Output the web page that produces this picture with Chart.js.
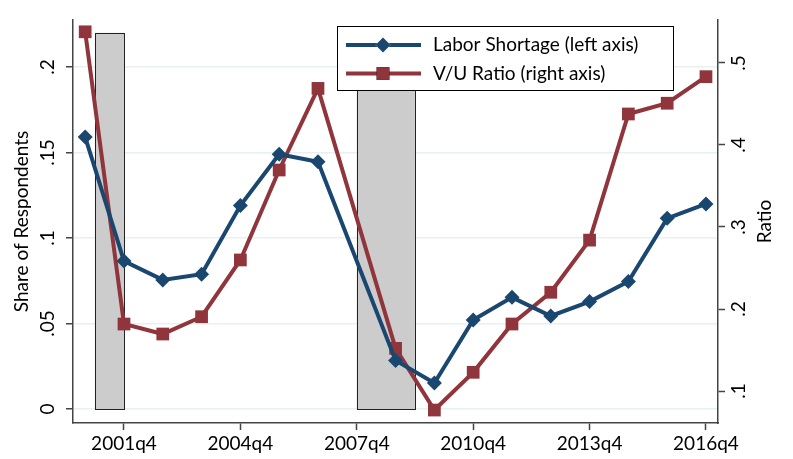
<!DOCTYPE html>
<html>
<head>
<meta charset="utf-8">
<script src="https://cdn.jsdelivr.net/npm/chart.js@4.4.1/dist/chart.umd.min.js"></script>
<style>
  html, body { margin: 0; padding: 0; background: #fff; }
  #wrap { width: 793px; height: 459px; }
</style>
</head>
<body>
<div id="wrap"><canvas id="chart" width="793" height="459"></canvas></div>
<script>
// survey quarters (annual q4 readings, 2007q4 missing)
const quarters = ['2000q4', '2001q4', '2002q4', '2003q4', '2004q4', '2005q4', '2006q4',
    '2008q4', '2009q4', '2010q4', '2011q4', '2012q4', '2013q4', '2014q4', '2015q4', '2016q4'];
const laborShortage = [0.159, 0.0865, 0.0755, 0.0788, 0.119, 0.149, 0.1446,
    0.0284, 0.0152, 0.052, 0.0653, 0.0544, 0.0628, 0.0745, 0.1115, 0.1199];
const vuRatio = [0.538, 0.1817, 0.1695, 0.1906, 0.2598, 0.3695, 0.469,
    0.152, 0.0768, 0.1228, 0.1817, 0.2204, 0.284, 0.4378, 0.4509, 0.4833];

// recessions (start quarter, end quarter)
const recessionStart = ['2001q1', '2007q4'];
const recessionEnd = ['2001q4', '2009q2'];
const recessionTop = 0.22;

const xTickLabels = ['2001q4', '2004q4', '2007q4', '2010q4', '2013q4', '2016q4'];
const leftTicks = [0, 0.05, 0.1, 0.15, 0.2];
const leftTickLabels = ['0', '.05', '.1', '.15', '.2'];
const rightTicks = [0.1, 0.2, 0.3, 0.4, 0.5];
const rightTickLabels = ['.1', '.2', '.3', '.4', '.5'];
const rightTitle = 'Ratio';

const FONT = 'Lato';
const FSIZE = 19;
const BLUE = '#1a476f';
const RED = '#90353b';
const AXIS = '#444444';

// '2001q4' -> 2001.75
function qNum(s) {
    const p = s.split('q');
    return parseInt(p[0]) + (parseInt(p[1]) - 1) / 4;
}

function toPoints(vals) {
    return quarters.map((q, i) => ({ x: qNum(q), y: vals[i] }));
}

const recessionPlugin = {
    id: 'recessions',
    beforeDatasetsDraw(chart) {
        const ctx = chart.ctx;
        const x = chart.scales.x;
        const y = chart.scales.y;
        ctx.save();
        for (let i = 0; i < recessionStart.length; i++) {
            const x0 = x.getPixelForValue(qNum(recessionStart[i]));
            const x1 = x.getPixelForValue(qNum(recessionEnd[i]));
            const y0 = y.getPixelForValue(0);
            const y1 = y.getPixelForValue(recessionTop);
            ctx.fillStyle = '#cccccc';
            ctx.fillRect(x0, y1, x1 - x0, y0 - y1);
            ctx.strokeStyle = '#222';
            ctx.lineWidth = 1;
            ctx.strokeRect(Math.round(x0) + 0.5, Math.round(y1) + 0.5, Math.round(x1 - x0), Math.round(y0 - y1));
        }
        ctx.restore();
    }
};

// legend box inside the plot + right axis title read bottom-to-top
const legendPlugin = {
    id: 'boxLegend',
    afterDraw(chart) {
        const ctx = chart.ctx;
        const bx = 337.5, by = 26.5, bw = 336, bh = 64;
        ctx.save();
        ctx.fillStyle = '#fff';
        ctx.fillRect(bx, by, bw, bh);
        ctx.strokeStyle = '#000';
        ctx.lineWidth = 1;
        ctx.strokeRect(bx, by, bw, bh);
        ctx.font = FSIZE + 'px ' + FONT;
        chart.data.datasets.forEach((ds, i) => {
            const cy = 45 + i * 28.5;
            ctx.strokeStyle = ds.borderColor;
            ctx.lineWidth = 4;
            ctx.beginPath();
            ctx.moveTo(346, cy);
            ctx.lineTo(421, cy);
            ctx.stroke();
            Chart.helpers.drawPoint(ctx, {
                pointStyle: ds.pointStyle,
                radius: ds.pointRadius,
                borderWidth: 0
            }, 383, cy);
            ctx.fillStyle = ds.pointBackgroundColor;
            ctx.fill();
            ctx.fillStyle = '#000';
            ctx.textBaseline = 'middle';
            ctx.textAlign = 'left';
            ctx.fillText(ds.label, 433, cy);
        });

        const area = chart.chartArea;
        ctx.translate(765, (area.top + area.bottom) / 2);
        ctx.rotate(-Math.PI / 2);
        ctx.fillStyle = '#000';
        ctx.textAlign = 'center';
        ctx.textBaseline = 'middle';
        ctx.fillText(rightTitle, 0, 0);
        ctx.restore();
    }
};

function fixedTicks(values) {
    return function (scale) {
        scale.ticks = values.map(v => ({ value: v }));
    };
}

const tickFont = { family: FONT, size: FSIZE };

new Chart(document.getElementById('chart'), {
    type: 'line',
    data: {
        datasets: [{
            label: 'Labor Shortage (left axis)',
            data: toPoints(laborShortage),
            borderColor: BLUE,
            backgroundColor: BLUE,
            pointBackgroundColor: BLUE,
            pointBorderWidth: 0,
            pointStyle: 'rectRot',
            pointRadius: 7.5,
            borderWidth: 4,
            tension: 0,
            yAxisID: 'y'
        }, {
            label: 'V/U Ratio (right axis)',
            data: toPoints(vuRatio),
            borderColor: RED,
            backgroundColor: RED,
            pointBackgroundColor: RED,
            pointBorderWidth: 0,
            pointStyle: 'rect',
            pointRadius: 9,
            borderWidth: 4,
            tension: 0,
            yAxisID: 'y1'
        }]
    },
    options: {
        responsive: false,
        animation: false,
        events: [],
        layout: { autoPadding: false, padding: { top: 20, left: 0, right: 0, bottom: 0 } },
        plugins: {
            legend: { display: false },
            tooltip: { enabled: false }
        },
        scales: {
            x: {
                type: 'linear',
                min: 2000.436,
                max: 2017.06,
                afterBuildTicks: fixedTicks(xTickLabels.map(qNum)),
                afterFit(scale) { scale.height = 36; },
                ticks: {
                    font: tickFont,
                    color: '#000',
                    maxRotation: 0,
                    padding: 2,
                    callback: (v) => xTickLabels[xTickLabels.map(qNum).indexOf(v)]
                },
                grid: { drawOnChartArea: false, tickLength: 7, tickColor: AXIS, tickWidth: 1.5 },
                border: { color: AXIS, width: 1.5 }
            },
            y: {
                position: 'left',
                min: -0.0082,
                max: 0.2275,
                afterBuildTicks: fixedTicks(leftTicks),
                afterFit(scale) { scale.width = 73; },
                ticks: {
                    font: tickFont,
                    color: '#000',
                    minRotation: 90,
                    maxRotation: 90,
                    crossAlign: 'center',
                    padding: 5,
                    callback: (v) => leftTickLabels[leftTicks.indexOf(v)]
                },
                grid: { color: '#e8f0f2', lineWidth: 1.5, tickLength: 7, tickColor: AXIS, tickWidth: 1.5 },
                border: { color: AXIS, width: 1.5 },
                title: { display: true, text: 'Share of Respondents', font: { family: FONT, size: FSIZE }, color: '#000', padding: { top: 10, bottom: 0 } }
            },
            y1: {
                position: 'right',
                min: 0.061,
                max: 0.5524,
                afterBuildTicks: fixedTicks(rightTicks),
                afterFit(scale) { scale.width = 75; },
                ticks: {
                    font: tickFont,
                    color: '#000',
                    minRotation: 90,
                    maxRotation: 90,
                    crossAlign: 'center',
                    padding: 6,
                    callback: (v) => rightTickLabels[rightTicks.indexOf(v)]
                },
                grid: { drawOnChartArea: false, tickLength: 7, tickColor: AXIS, tickWidth: 1.5 },
                border: { color: AXIS, width: 1.5 }
            }
        }
    },
    plugins: [recessionPlugin, legendPlugin]
});
</script>
</body>
</html>
